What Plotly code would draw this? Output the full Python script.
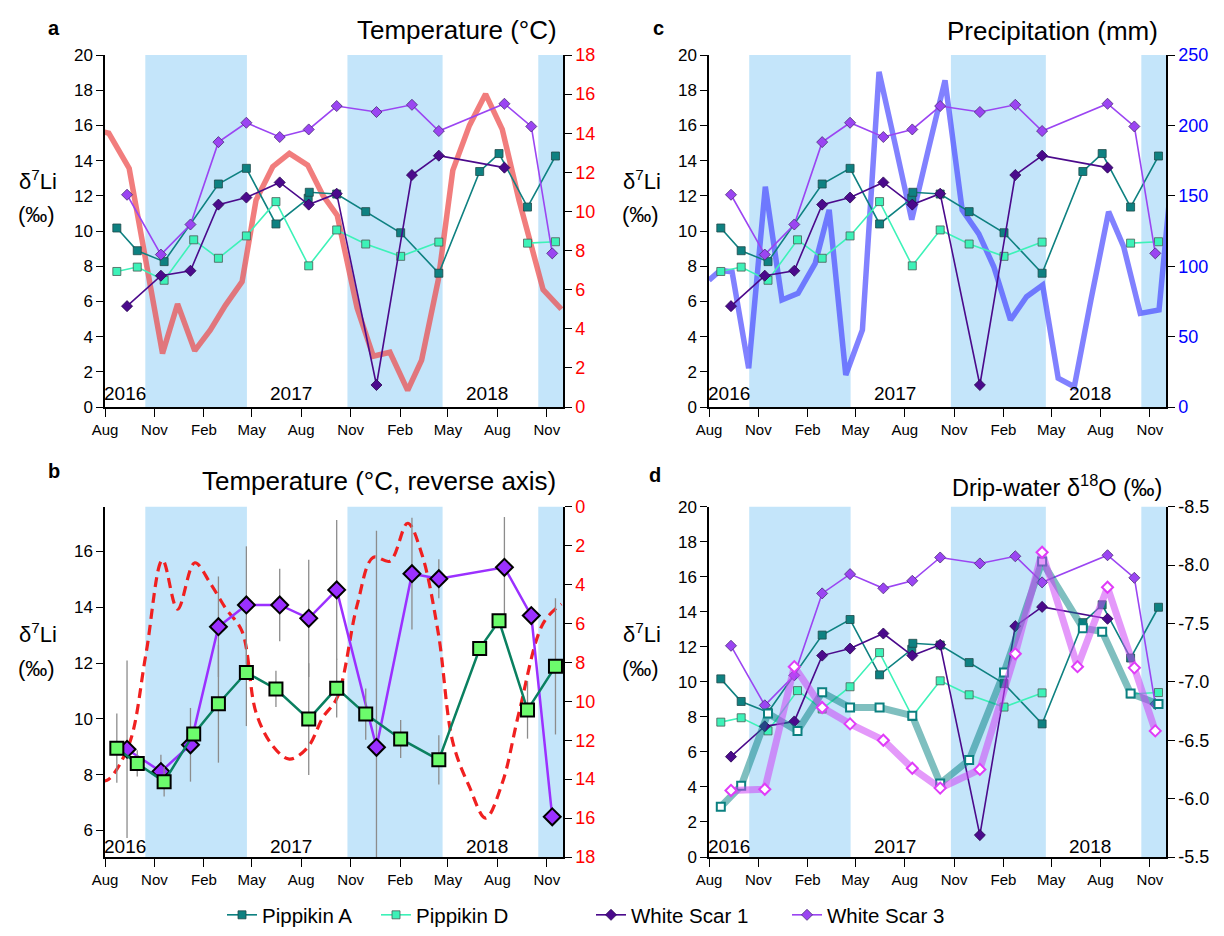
import plotly.graph_objects as go

# ---------------- data ----------------
pipA_dates = ["2016-08-23", "2016-09-30", "2016-11-19", "2017-02-28", "2017-04-21", "2017-06-15",
              "2017-08-14", "2017-08-16", "2017-10-06", "2017-11-29", "2018-02-02", "2018-04-14",
              "2018-06-29", "2018-08-04", "2018-09-26", "2018-11-17"]
pipA_d7li = [10.17, 8.88, 8.26, 12.67, 13.56, 10.40, 11.86, 12.20, 12.10, 11.10, 9.90, 7.60,
             13.38, 14.40, 11.36, 14.26]

pipD_dates = ["2016-08-23", "2016-09-30", "2016-11-19", "2017-01-13", "2017-02-28", "2017-04-21",
              "2017-06-15", "2017-08-15", "2017-10-06", "2017-11-29", "2018-02-02", "2018-04-14",
              "2018-06-15", "2018-09-26", "2018-11-17"]
pipD_d7li = [7.70, 7.95, 7.20, 9.50, 8.45, 9.72, 11.67, 8.02, 10.06, 9.26, 8.56, 9.37,
             None, 9.31, 9.39]

ws_dates = ["2016-09-11", "2016-11-13", "2017-01-07", "2017-02-28", "2017-04-21", "2017-06-22",
            "2017-08-15", "2017-10-06", "2017-12-19", "2018-02-23", "2018-04-14", "2018-08-14",
            "2018-10-03", "2018-11-11"]
ws1_d7li = [5.73, 7.46, 7.74, 11.50, 11.90, 12.76, 11.50, 12.12, 1.25, 13.18, 14.28, 13.60,
            None, None]
ws3_d7li = [12.06, 8.66, 10.37, 15.05, 16.15, 15.34, 15.77, 17.10, 16.76, 17.17, 15.68, 17.23,
            15.94, 8.73]

# panel b: cave means with error bars
pipM_dates = ["2016-08-23", "2016-09-30", "2016-11-19", "2017-01-13", "2017-02-28", "2017-04-21",
              "2017-06-15", "2017-08-15", "2017-10-06", "2017-11-29", "2018-02-02", "2018-04-14",
              "2018-06-29", "2018-08-04", "2018-09-26", "2018-11-17"]
pipM_d7li = [8.95, 8.40, 7.75, 9.46, 10.54, 11.66, 11.07, 9.99, 11.10, 10.17, 9.28, 8.53,
             12.52, 13.51, 10.32, 11.88]
pipM_err = [1.24, 0.47, 0.53, 0.0, 2.11, 1.92, 0.65, 2.00, 1.05, 0.92, 0.68, 0.88,
            0.0, 0.0, 1.03, 2.44]
wsM_d7li = [8.91, 8.11, 9.07, 13.30, 14.08, 14.08, 13.60, 14.62, 8.98, 15.20, 15.02, 15.43,
            13.70, 6.49]
wsM_err = [3.18, 0.60, 1.32, 1.80, 2.10, 1.30, 2.10, 2.50, 7.76, 2.00, 0.70, 1.80, 0.0, 0.0]

# temperature (deg C)
temp_dates = ["2016-07-25", "2016-08-08", "2016-09-15", "2016-10-16", "2016-11-16", "2016-12-14",
              "2017-01-15", "2017-02-13", "2017-03-13", "2017-04-13", "2017-05-09", "2017-06-09",
              "2017-07-10", "2017-08-13", "2017-09-10", "2017-10-07", "2017-11-13", "2017-12-13",
              "2018-01-13", "2018-02-15", "2018-03-13", "2018-04-13", "2018-05-10", "2018-06-10",
              "2018-07-10", "2018-08-10", "2018-09-10", "2018-10-25", "2018-11-28"]
temp_c = [14.1, 14.0, 12.2, 7.6, 2.74, 5.27, 2.88, 3.94, 5.2, 6.41, 10.58, 12.29,
          12.97, 12.37, 10.84, 9.8, 5.06, 2.6, 2.8, 0.85, 2.4, 6.5, 12.1, 14.4,
          16.0, 14.2, 10.6, 6.0, 5.0]

# precipitation (mm)
precip_dates = ["2016-08-01", "2016-08-22", "2016-09-13", "2016-10-14", "2016-11-14", "2016-12-15",
                "2017-01-14", "2017-02-15", "2017-03-13", "2017-04-13", "2017-05-14", "2017-06-14",
                "2017-07-15", "2017-08-14", "2017-09-14", "2017-10-15", "2017-11-16", "2017-12-17",
                "2018-01-14", "2018-02-14", "2018-03-16", "2018-04-15", "2018-05-14", "2018-06-13",
                "2018-07-14", "2018-08-16", "2018-09-13", "2018-10-14", "2018-11-18", "2018-12-13"]
precip_mm = [90, 97, 96, 27.5, 156.5, 76, 80.7, 102, 140, 22.7, 54.7, 238,
             185, 133, 183, 232, 140, 123, 99.6, 61.8, 78.3, 86.6, 20.4, 14.4,
             76, 138.7, 113.9, 66.5, 68.9, 170]

# drip-water d18O (permil)
pipO_dates = ["2016-08-23", "2016-09-30", "2016-11-19", "2017-01-13", "2017-02-28", "2017-04-21",
              "2017-06-15", "2017-08-15", "2017-10-06", "2017-11-29", "2018-02-02", "2018-04-14",
              "2018-06-29", "2018-08-04", "2018-09-26", "2018-11-17"]
pip_d18o = [-5.93, -6.11, -6.73, -6.58, -6.91, -6.78, -6.78, -6.71, -6.13, -6.33, -7.08, -8.03,
            -7.46, -7.43, -6.90, -6.81]
wsO_dates = ["2016-09-11", "2016-11-13", "2017-01-07", "2017-02-28", "2017-04-21", "2017-06-22",
             "2017-08-15", "2017-10-06", "2017-12-19", "2018-02-23", "2018-04-14", "2018-06-19",
             "2018-08-14", "2018-10-03", "2018-11-11"]
ws_d18o = [-6.07, -6.08, -7.13, -6.78, -6.64, -6.50, -6.26, -6.09, -6.25, -7.24, -8.11, -7.13,
           -7.81, -7.12, -6.58]

# shaded (cold-season) periods
shade_start = ["2016-10-15", "2017-10-26", "2018-10-16"]
shade_end = ["2017-04-22", "2018-04-21", "2018-12-01"]

year_labels = ["2016", "2017", "2018"]
year_pos = ["2016-09-07", "2017-07-13", "2018-07-12"]

d18o_ticks = [-8.5, -8.0, -7.5, -7.0, -6.5, -6.0, -5.5]
d18o_ticktext = ["-8.5", "-8.0", "-7.5", "-7.0", "-6.5", "-6.0", "-5.5"]

series_names = ["Pippikin A", "Pippikin D", "White Scar 1", "White Scar 3"]

# ---------------- layout helpers ----------------
W, H, OFF = 1208, 920, 8
FONT = "Liberation Sans, Arial, sans-serif"


def fx(p):
    return (p - OFF) / W


def fy(p):
    return 1 - (p - OFF) / H


X_RANGE = ["2016-08-01", "2018-12-01"]
dom_left = [fx(105), fx(563)]
dom_right = [fx(709), fx(1166)]
dom_top = [fy(407), fy(55)]
dom_bot = [fy(857), fy(506.7)]

SHADE = "#C4E5FA"
C_PA, C_PD, C_W1, C_W3 = "#0E8181", "#3DF2B8", "#4B0A8C", "#9B45F2"
legend_ids = ["legend", "legend2", "legend3", "legend4"]
legend_x = [222, 376, 591, 787]

fig = go.Figure()


def add_li(xa, ya, show):
    specs = [
        (pipA_dates, pipA_d7li, C_PA, "square", 8, "#1F4A4A"),
        (pipD_dates, pipD_d7li, C_PD, "square", 8, "#4A5A55"),
        (ws_dates, ws1_d7li, C_W1, "diamond", 8.5, "#2A0650"),
        (ws_dates, ws3_d7li, C_W3, "diamond", 8.5, "#4A2C78"),
    ]
    for name, lg, (xs, ys, col, sym, sz, ec) in zip(series_names, legend_ids, specs):
        fig.add_trace(go.Scatter(
            x=xs, y=ys, name=name, mode="lines+markers", xaxis=xa, yaxis=ya,
            line=dict(color=col, width=1.6),
            marker=dict(symbol=sym, size=sz, color=col, line=dict(color=ec, width=0.8)),
            showlegend=show, legend=lg, connectgaps=False))


# panel a: temperature (base axis y, right side) + d7Li (overlay y2, left)
fig.add_trace(go.Scatter(x=temp_dates, y=temp_c, mode="lines", xaxis="x", yaxis="y",
                         line=dict(color="rgba(235,75,75,0.72)", width=5.5), showlegend=False))
add_li("x", "y2", True)

# panel c: precipitation (y3 right) + d7Li (y4 left overlay)
fig.add_trace(go.Scatter(x=precip_dates, y=precip_mm, mode="lines", xaxis="x2", yaxis="y3",
                         line=dict(color="rgba(70,70,255,0.68)", width=5.5), showlegend=False))
add_li("x2", "y4", False)

# panel b: reversed temperature (y5 right) + cave means (y6 left overlay)
fig.add_trace(go.Scatter(x=temp_dates, y=temp_c, mode="lines", xaxis="x3", yaxis="y5",
                         line=dict(color="#F02020", width=3.2, dash="10px,6px", shape="spline"),
                         showlegend=False))
fig.add_trace(go.Scatter(x=ws_dates, y=wsM_d7li, mode="lines+markers", xaxis="x3", yaxis="y6",
                         line=dict(color="#9B30FF", width=2.5),
                         marker=dict(symbol="diamond", size=13, color="#9B30FF",
                                     line=dict(color="black", width=2)),
                         error_y=dict(type="data", array=wsM_err, color="#8C8C8C",
                                      thickness=1.3, width=0),
                         showlegend=False))
fig.add_trace(go.Scatter(x=pipM_dates, y=pipM_d7li, mode="lines+markers", xaxis="x3", yaxis="y6",
                         line=dict(color="#0A8060", width=2.5),
                         marker=dict(symbol="square", size=13, color="#6CFB6C",
                                     line=dict(color="black", width=2)),
                         error_y=dict(type="data", array=pipM_err, color="#8C8C8C",
                                      thickness=1.3, width=0),
                         showlegend=False))

# panel d: d7Li (y7 left base) + drip-water d18O (y8 right overlay)
add_li("x4", "y7", False)
fig.add_trace(go.Scatter(x=pipO_dates, y=pip_d18o, mode="lines+markers", xaxis="x4", yaxis="y8",
                         line=dict(color="rgba(0,128,128,0.5)", width=7),
                         marker=dict(symbol="square", size=8, color="white",
                                     line=dict(color="#0B8080", width=2)),
                         showlegend=False))
fig.add_trace(go.Scatter(x=wsO_dates, y=ws_d18o, mode="lines+markers", xaxis="x4", yaxis="y8",
                         line=dict(color="rgba(205,70,245,0.55)", width=7),
                         marker=dict(symbol="diamond", size=8.5, color="white",
                                     line=dict(color="#E03CF8", width=2)),
                         showlegend=False))

# ---------------- axes ----------------
xcommon = dict(type="date", range=X_RANGE, tickformat="%b", dtick="M3", tick0="2016-08-01",
               ticks="outside", ticklen=8, tickwidth=1.3, tickcolor="black", automargin=False,
               showline=True, linecolor="black", linewidth=1.5, showgrid=False, zeroline=False,
               tickfont=dict(size=15, color="black", family=FONT))
ycommon = dict(ticks="outside", ticklen=7, tickwidth=1.3, tickcolor="black", showline=True,
               linecolor="black", linewidth=1.5, showgrid=False, zeroline=False, automargin=False)

fig.update_layout(
    xaxis=dict(domain=dom_left, anchor="y", **xcommon),
    xaxis2=dict(domain=dom_right, anchor="y3", **xcommon),
    xaxis3=dict(domain=dom_left, anchor="y5", **xcommon),
    xaxis4=dict(domain=dom_right, anchor="y7", **xcommon),
    yaxis=dict(domain=dom_top, anchor="x", side="right", range=[0, 18], dtick=2,
               tickfont=dict(size=18, color="#FF0000", family=FONT), **ycommon),
    yaxis2=dict(overlaying="y", anchor="x", side="left", range=[0, 20], dtick=2,
                tickfont=dict(size=17, color="black", family=FONT), **ycommon),
    yaxis3=dict(domain=dom_top, anchor="x2", side="right", range=[0, 250], dtick=50,
                tickfont=dict(size=18, color="#0000FF", family=FONT), **ycommon),
    yaxis4=dict(overlaying="y3", anchor="x2", side="left", range=[0, 20], dtick=2,
                tickfont=dict(size=17, color="black", family=FONT), **ycommon),
    yaxis5=dict(domain=dom_bot, anchor="x3", side="right", range=[18, 0], dtick=2,
                tickfont=dict(size=18, color="#FF0000", family=FONT), **ycommon),
    yaxis6=dict(overlaying="y5", anchor="x3", side="left", range=[5.05, 17.6],
                tickvals=[6, 8, 10, 12, 14, 16],
                tickfont=dict(size=17, color="black", family=FONT), **ycommon),
    yaxis7=dict(domain=dom_bot, anchor="x4", side="left", range=[0, 20], dtick=2,
                tickfont=dict(size=17, color="black", family=FONT), **ycommon),
    yaxis8=dict(overlaying="y7", anchor="x4", side="right", range=[-5.5, -8.5],
                tickvals=d18o_ticks, ticktext=d18o_ticktext,
                tickfont=dict(size=18, color="black", family=FONT), **ycommon),
)

# ---------------- shading ----------------
shapes = []
for xa, yd in [("x", "y domain"), ("x2", "y3 domain"), ("x3", "y5 domain"), ("x4", "y7 domain")]:
    for s, e in zip(shade_start, shade_end):
        shapes.append(dict(type="rect", xref=xa, yref=yd, x0=s, x1=e, y0=0, y1=1,
                           fillcolor=SHADE, line=dict(width=0), layer="below"))
fig.update_layout(shapes=shapes)

# ---------------- annotations ----------------
ann = []
for xa, yd, yy in [("x", "y domain", 0.037), ("x2", "y3 domain", 0.037),
                   ("x3", "y5 domain", 0.03), ("x4", "y7 domain", 0.03)]:
    for lab, pos in zip(year_labels, year_pos):
        ann.append(dict(text=lab, x=pos, y=yy, xref=xa, yref=yd, showarrow=False,
                        font=dict(size=19, color="black", family=FONT), yanchor="middle"))


def txt(t, x, y, size, xanchor="center", bold=False):
    ann.append(dict(text=("<b>%s</b>" % t) if bold else t, x=fx(x), y=fy(y), xref="paper",
                    yref="paper", showarrow=False, xanchor=xanchor, yanchor="middle",
                    font=dict(size=size, color="black", family=FONT)))


txt("a", 54, 28, 20, bold=True)
txt("c", 658, 28, 20, bold=True)
txt("b", 54, 471, 20, bold=True)
txt("d", 655, 475, 20, bold=True)
txt("Temperature (°C)", 559, 30, 26, xanchor="right")
txt("Precipitation (mm)", 1160, 31, 26, xanchor="right")
txt("Temperature (°C, reverse axis)", 558, 481, 26, xanchor="right")
txt("Drip-water δ<sup>18</sup>O (‰)", 1164, 486, 23.5, xanchor="right")
for cx, cy in [(38, 180), (642, 180), (38, 633), (642, 633)]:
    txt("δ<sup>7</sup>Li", cx, cy, 22)
    txt("(‰)", cx - 2, cy + 35, 22)
fig.update_layout(annotations=ann)

legend_layout = {}
for lg, lx in zip(legend_ids, legend_x):
    legend_layout[lg] = dict(orientation="h", x=fx(lx), xanchor="left", y=fy(915),
                             yanchor="middle", font=dict(size=20.5, family=FONT, color="black"),
                             bgcolor="rgba(0,0,0,0)")
fig.update_layout(**legend_layout)

fig.update_layout(
    width=W, height=H,
    margin=dict(l=0, r=0, t=0, b=0, pad=0, autoexpand=False),
    plot_bgcolor="white", paper_bgcolor="white",
    font=dict(family=FONT, color="black"),
)

fig.write_html("out.html")
